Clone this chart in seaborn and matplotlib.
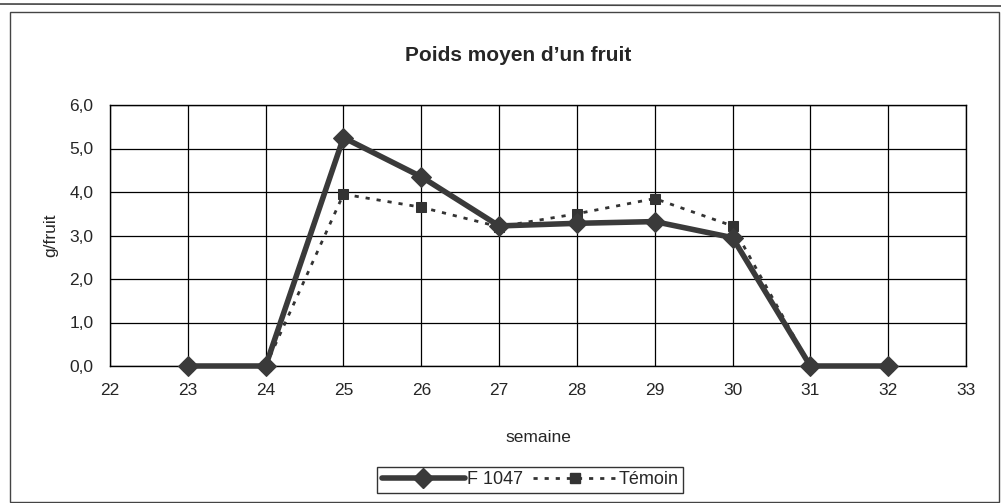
import numpy as np
import pandas as pd
import matplotlib
matplotlib.use("Agg")
import matplotlib.pyplot as plt
import seaborn as sns
from matplotlib.patches import Rectangle
from matplotlib.lines import Line2D

# data
semaine = [23, 24, 25, 26, 27, 28, 29, 30, 31, 32]
f1047 = [0.0, 0.0, 5.25, 4.35, 3.22, 3.28, 3.32, 2.95, 0.0, 0.0]
temoin = [0.0, 0.0, 3.95, 3.65, 3.2, 3.5, 3.85, 3.22, 0.0, 0.0]
y_ticks = [0, 1, 2, 3, 4, 5, 6]
y_labels = ["0,0", "1,0", "2,0", "3,0", "4,0", "5,0", "6,0"]
x_ticks = list(range(22, 34))

sns.set_style("white")
plt.rcParams["font.family"] = ["Liberation Sans", "DejaVu Sans"]

df = pd.DataFrame({"semaine": semaine * 2,
                   "val": f1047 + temoin,
                   "serie": ["F 1047"] * len(semaine) + ["Témoin"] * len(semaine)})

fig = plt.figure(figsize=(10.01, 5.03), dpi=100)
ax = fig.add_axes([110 / 1001, 1 - 366 / 503, (966 - 110) / 1001, (366 - 105) / 503])

# Témoin first so F 1047 sits on top
sns.lineplot(data=df[df.serie == "Témoin"], x="semaine", y="val", ax=ax,
             color="#333333", lw=2, linestyle=(0, (1.5, 2.5)), marker="s",
             markersize=7, markeredgecolor="#333333", label="Témoin",
             zorder=3, clip_on=False)
sns.lineplot(data=df[df.serie == "F 1047"], x="semaine", y="val", ax=ax,
             color="#3a3a3a", lw=4, marker="D", markersize=10,
             markeredgecolor="#3a3a3a", label="F 1047", zorder=4, clip_on=False)

ax.set_xlim(22, 33)
ax.set_ylim(0, 6)
ax.set_xticks(x_ticks)
ax.set_xticklabels([str(x) for x in x_ticks], fontsize=12.5)
ax.set_yticks(y_ticks)
ax.set_yticklabels(y_labels, fontsize=12.5)
ax.grid(True, color="black", lw=0.9)
for s in ax.spines.values():
    s.set_color("black")
    s.set_linewidth(1)
ax.tick_params(axis="both", direction="out", length=5, color="black", width=1, pad=7)
ax.set_xlabel("semaine", fontsize=12.5, labelpad=23)
ax.set_ylabel("g/fruit", fontsize=12.5, labelpad=8)
ax.set_title("Poids moyen d\u2019un fruit", fontsize=15, fontweight="bold",
             pad=32, x=(518 - 110) / 856)

handles = [Line2D([], [], color="#3a3a3a", lw=4, marker="D", markersize=10),
           Line2D([], [], color="#333333", lw=2, linestyle=(0, (1.5, 2.5)),
                  marker="s", markersize=7)]
leg = ax.legend(handles, ["F 1047", "Témoin"], ncol=2, loc="center",
                bbox_to_anchor=(530 / 1001, 1 - 480 / 503),
                bbox_transform=fig.transFigure, fontsize=13, frameon=True,
                fancybox=False, handlelength=4.6, handletextpad=0.1,
                columnspacing=0.6, borderpad=0.25)
leg.get_frame().set_edgecolor("black")
leg.get_frame().set_linewidth(1)

# outer chart border like the scan
fig.patches.append(Rectangle((10 / 1001, 1 / 503), 989 / 1001, 490 / 503,
                             transform=fig.transFigure, fill=False,
                             edgecolor="#444444", lw=1))
fig.lines.append(Line2D([0, 1], [1 - 4 / 503, 1 - 6 / 503],
                        transform=fig.transFigure, color="#444444", lw=1.2))

fig.savefig("out.png", dpi=100)
